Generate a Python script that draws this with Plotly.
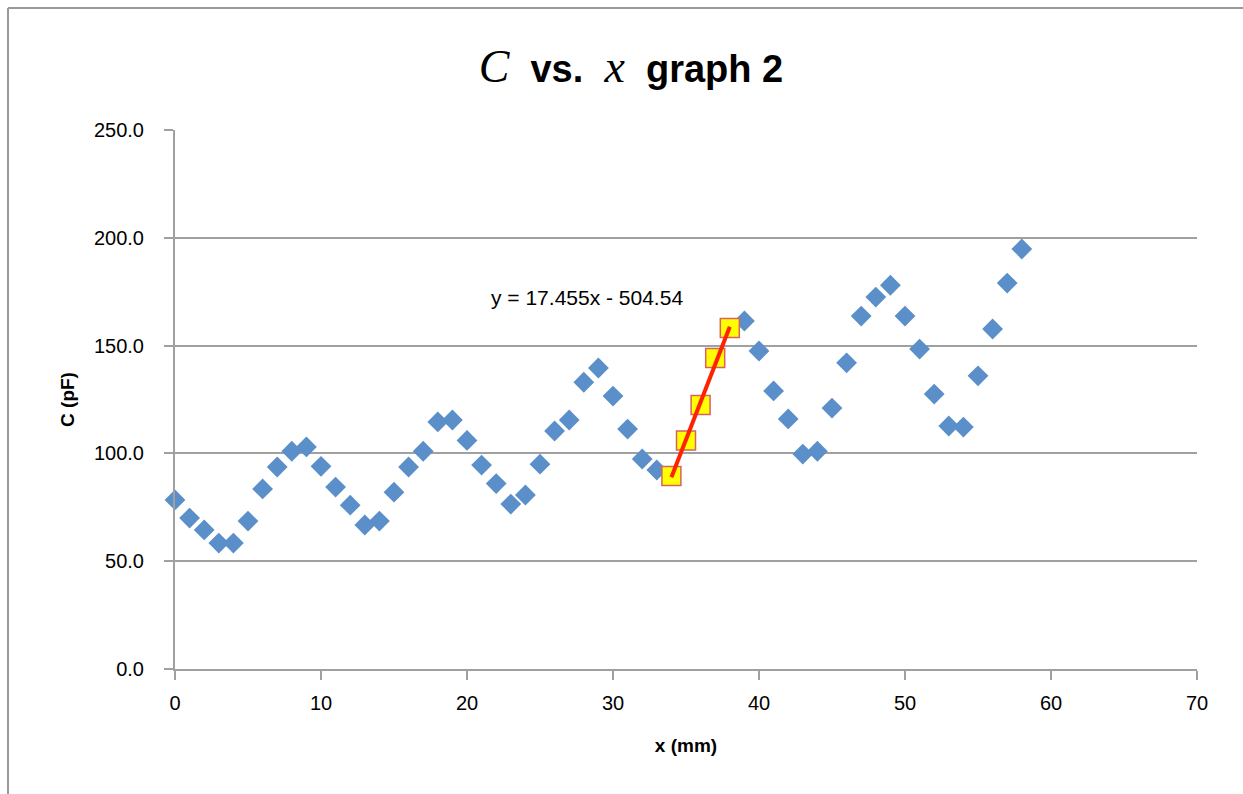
import plotly.graph_objects as go

x_mm = list(range(0, 59))
c_pf = [78.4, 70.0, 64.5, 58.4, 58.4, 68.6, 83.5, 93.7, 101.0, 103.0,
        94.0, 84.4, 76.0, 66.8, 68.6, 82.0, 93.7, 101.0, 114.6, 115.5,
        106.0, 94.6, 86.0, 76.5, 80.7, 95.0, 110.4, 115.5, 133.0, 139.6,
        126.6, 111.3, 97.4, 92.3, 89.5, 106.0, 122.4, 144.2, 158.2, 161.4,
        147.5, 129.0, 116.0, 99.7, 101.0, 121.0, 142.0, 163.7, 172.5, 178.0,
        163.7, 148.4, 127.5, 112.7, 112.2, 136.0, 157.7, 179.0, 194.8]

fit_x = [34, 35, 36, 37, 38]
fit_y = [89.5, 106.0, 122.4, 144.2, 158.2]
slope = 17.455
intercept = -504.54
fit_line_x = [34, 38]
fit_line_y = [slope * v + intercept for v in fit_line_x]

x_ticks = [0, 10, 20, 30, 40, 50, 60, 70]
y_ticks = [0, 50, 100, 150, 200, 250]

font_main = "Liberation Sans, Arial, sans-serif"
grey = "#a0a0a0"

fig = go.Figure()
main_x = [a for a in x_mm if a not in fit_x]
main_y = [b for a, b in zip(x_mm, c_pf) if a not in fit_x]
fig.add_trace(go.Scatter(x=main_x, y=main_y, mode="markers",
                         marker=dict(symbol="diamond", size=16, color="#5b8fc9",
                                     line=dict(width=0)),
                         showlegend=False, cliponaxis=False))
fig.add_trace(go.Scatter(x=fit_x, y=fit_y, mode="markers",
                         marker=dict(symbol="square", size=19, color="#ffff00",
                                     line=dict(width=1.5, color="#d9625f")),
                         showlegend=False, cliponaxis=False))
fig.add_trace(go.Scatter(x=fit_line_x, y=fit_line_y, mode="lines",
                         line=dict(color="#ff2200", width=4),
                         showlegend=False))

fig.add_annotation(x=28.2, y=172.5, xref="x", yref="y",
                   text="y = 17.455x - 504.54", showarrow=False,
                   font=dict(family=font_main, size=21, color="#000000"))

# outer chart frame (left and top)
fig.add_shape(type="line", xref="paper", yref="paper",
              x0=-0.1634, x1=-0.1634, y0=1.2263, y1=-0.24,
              line=dict(color="#999999", width=2))
fig.add_shape(type="line", xref="paper", yref="paper",
              x0=-0.1634, x1=1.06, y0=1.2263, y1=1.2263,
              line=dict(color="#999999", width=2))

math_span = "<span style=\"font-family:'Liberation Serif';font-weight:normal;font-size:46px\"><i>{}</i></span>"
title_text = math_span.format("C") + "&nbsp; vs. &nbsp;" + math_span.format("x") + "&nbsp; graph 2"

fig.update_layout(
    width=1243, height=794,
    margin=dict(l=175, r=46, t=130, b=125),
    paper_bgcolor="white", plot_bgcolor="white",
    title=dict(
        text=title_text,
        x=0.5076, xref="container", y=0.914, yref="container", xanchor="center", yanchor="middle",
        font=dict(family=font_main, size=38, color="#000000", weight="bold")),
    xaxis=dict(range=[0, 70], tickvals=x_ticks, showgrid=False, zeroline=False,
               showline=True, linecolor=grey, linewidth=2,
               ticks="outside", ticklen=9, tickcolor=grey, tickwidth=2,
               ticklabelstandoff=6,
               tickfont=dict(family=font_main, size=20, color="#000000"),
               title=dict(text="<b>x (mm)</b>", standoff=26,
                          font=dict(family=font_main, size=19, color="#000000"))),
    yaxis=dict(range=[0, 250], tickvals=y_ticks, tickformat=".1f",
               showgrid=True, gridcolor=grey, gridwidth=2, zeroline=False,
               showline=True, linecolor=grey, linewidth=2,
               ticks="outside", ticklen=9, tickcolor=grey, tickwidth=2,
               ticklabelstandoff=16,
               tickfont=dict(family=font_main, size=20, color="#000000"),
               title=dict(text="<b>C (pF)</b>", standoff=14,
                          font=dict(family=font_main, size=19, color="#000000"))),
)

fig.write_html("out.html", config={"displayModeBar": False},
               post_script="document.body.style.margin='0';")
